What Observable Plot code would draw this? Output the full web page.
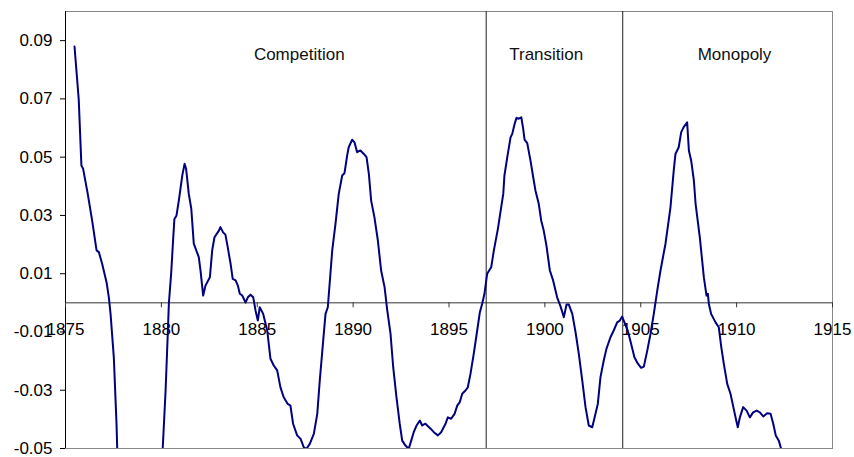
<!DOCTYPE html>
<html>
<head>
<meta charset="utf-8">
<script src="https://cdn.jsdelivr.net/npm/d3@7"></script>
<script src="https://cdn.jsdelivr.net/npm/@observablehq/plot@0.6"></script>
<style>
  html, body { margin: 0; padding: 0; background: #fff; }
</style>
</head>
<body>
<div id="chart"></div>
<script>
// Year (decimal) and value of the series
const years = [
  1875.47, 1875.69, 1875.83, 1875.92, 1876.16, 1876.39, 1876.62, 1876.74, 1876.91, 1877.14,
  1877.26, 1877.35, 1877.52, 1877.66, 1877.70, 1878.00, 1878.50, 1879.00, 1879.50, 1879.90,
  1880.07, 1880.22, 1880.34, 1880.39, 1880.51, 1880.62, 1880.68, 1880.79, 1880.91, 1881.09,
  1881.21, 1881.29, 1881.43, 1881.56, 1881.69, 1881.95, 1882.04, 1882.18, 1882.30, 1882.53,
  1882.65, 1882.77, 1883.00, 1883.08, 1883.22, 1883.34, 1883.46, 1883.61, 1883.72, 1883.87,
  1883.99, 1884.09, 1884.22, 1884.39, 1884.51, 1884.65, 1884.79, 1884.91, 1885.03, 1885.13,
  1885.31, 1885.52, 1885.69, 1885.86, 1886.04, 1886.21, 1886.38, 1886.59, 1886.73, 1886.87,
  1887.08, 1887.26, 1887.43, 1887.57, 1887.74, 1887.95, 1888.13, 1888.26, 1888.44, 1888.56,
  1888.68, 1888.91, 1889.08, 1889.25, 1889.43, 1889.55, 1889.69, 1889.77, 1889.95, 1890.07,
  1890.21, 1890.38, 1890.56, 1890.70, 1890.82, 1890.94, 1891.11, 1891.29, 1891.46, 1891.64,
  1891.78, 1891.95, 1892.09, 1892.26, 1892.43, 1892.56, 1892.73, 1892.90, 1893.03, 1893.16,
  1893.31, 1893.48, 1893.60, 1893.77, 1894.04, 1894.21, 1894.42, 1894.59, 1894.82, 1894.94,
  1895.11, 1895.29, 1895.43, 1895.56, 1895.69, 1895.86, 1895.98, 1896.12, 1896.29, 1896.47,
  1896.61, 1896.73, 1896.85, 1896.99, 1897.20, 1897.34, 1897.55, 1897.72, 1897.83, 1897.89,
  1898.04, 1898.21, 1898.30, 1898.42, 1898.52, 1898.64, 1898.77, 1898.87, 1898.94, 1899.08,
  1899.25, 1899.42, 1899.51, 1899.68, 1899.81, 1899.94, 1900.08, 1900.26, 1900.43, 1900.64,
  1900.82, 1900.99, 1901.13, 1901.25, 1901.43, 1901.60, 1901.77, 1901.95, 1902.12, 1902.29,
  1902.47, 1902.64, 1902.76, 1902.90, 1903.07, 1903.21, 1903.42, 1903.59, 1903.77, 1903.91,
  1904.03, 1904.15, 1904.32, 1904.50, 1904.67, 1904.85, 1905.02, 1905.16, 1905.34, 1905.51,
  1905.68, 1905.86, 1906.03, 1906.29, 1906.55, 1906.72, 1906.81, 1906.98, 1907.11, 1907.24,
  1907.42, 1907.51, 1907.63, 1907.77, 1907.86, 1908.08, 1908.29, 1908.43, 1908.50, 1908.55,
  1908.67, 1908.90, 1909.07, 1909.20, 1909.33, 1909.51, 1909.68, 1909.85, 1909.96, 1910.06,
  1910.17, 1910.34, 1910.52, 1910.69, 1910.86, 1911.04, 1911.21, 1911.39, 1911.59, 1911.77,
  1911.91, 1912.04, 1912.20, 1912.32, 1912.38
];
const values = [
  0.0880, 0.0698, 0.0471, 0.0460, 0.0374, 0.0282, 0.0180, 0.0174, 0.0134, 0.0071,
  0.0019, -0.0038, -0.0187, -0.0414, -0.0507, -0.0750, -0.0900, -0.0920, -0.0780, -0.0600,
  -0.0500, -0.0301, -0.0095, -0.0003, 0.0100, 0.0225, 0.0288, 0.0300, 0.0351, 0.0437,
  0.0477, 0.0460, 0.0374, 0.0323, 0.0203, 0.0157, 0.0111, 0.0025, 0.0059, 0.0088,
  0.0180, 0.0225, 0.0248, 0.0260, 0.0242, 0.0234, 0.0191, 0.0134, 0.0082, 0.0077,
  0.0059, 0.0031, 0.0025, 0.0001, 0.0019, 0.0028, 0.0019, -0.0026, -0.0061, -0.0015,
  -0.0038, -0.0095, -0.0192, -0.0215, -0.0232, -0.0290, -0.0324, -0.0347, -0.0353, -0.0415,
  -0.0455, -0.0467, -0.0496, -0.0501, -0.0484, -0.0450, -0.0381, -0.0267, -0.0129, -0.0038,
  -0.0015, 0.0180, 0.0271, 0.0374, 0.0437, 0.0445, 0.0506, 0.0534, 0.0560, 0.0551,
  0.0517, 0.0523, 0.0511, 0.0500, 0.0443, 0.0351, 0.0294, 0.0214, 0.0111, 0.0054,
  -0.0026, -0.0106, -0.0221, -0.0324, -0.0415, -0.0473, -0.0490, -0.0501, -0.0473, -0.0444,
  -0.0421, -0.0404, -0.0421, -0.0415, -0.0432, -0.0444, -0.0455, -0.0444, -0.0415, -0.0393,
  -0.0398, -0.0381, -0.0353, -0.0341, -0.0312, -0.0301, -0.0290, -0.0244, -0.0175, -0.0095,
  -0.0032, -0.0003, 0.0031, 0.0100, 0.0122, 0.0180, 0.0254, 0.0328, 0.0374, 0.0437,
  0.0500, 0.0568, 0.0580, 0.0614, 0.0635, 0.0632, 0.0637, 0.0597, 0.0560, 0.0548,
  0.0488, 0.0420, 0.0385, 0.0340, 0.0282, 0.0248, 0.0197, 0.0111, 0.0077, 0.0019,
  -0.0013, -0.0049, -0.0006, -0.0006, -0.0038, -0.0101, -0.0175, -0.0267, -0.0358, -0.0421,
  -0.0427, -0.0381, -0.0347, -0.0255, -0.0198, -0.0158, -0.0118, -0.0095, -0.0067, -0.0061,
  -0.0047, -0.0067, -0.0095, -0.0141, -0.0187, -0.0209, -0.0223, -0.0219, -0.0164, -0.0106,
  -0.0038, 0.0042, 0.0111, 0.0203, 0.0328, 0.0454, 0.0511, 0.0534, 0.0586, 0.0603,
  0.0620, 0.0523, 0.0488, 0.0420, 0.0340, 0.0225, 0.0088, 0.0025, 0.0031, -0.0003,
  -0.0038, -0.0067, -0.0084, -0.0152, -0.0209, -0.0278, -0.0312, -0.0364, -0.0398, -0.0427,
  -0.0393, -0.0358, -0.0370, -0.0393, -0.0376, -0.0370, -0.0376, -0.0390, -0.0379, -0.0381,
  -0.0415, -0.0455, -0.0473, -0.0501, -0.0530
];

const xTicks = [1875, 1880, 1885, 1890, 1895, 1900, 1905, 1910, 1915];
const yTicks = [-0.05, -0.03, -0.01, 0.01, 0.03, 0.05, 0.07, 0.09];

const periodBounds = [1896.94, 1904.06];
const periodNames = ["Competition", "Transition", "Monopoly"];
const periodLabelX = [1887.19, 1900.07, 1909.89];
const periodLabelY = [0.0852, 0.0852, 0.0852];

const series = years.map((y, i) => ({year: y, value: values[i]}));
const periodLabels = periodNames.map((n, i) => ({name: n, x: periodLabelX[i], y: periodLabelY[i]}));

const FONT = 17;
const X_LABEL_Y = -0.0093;   // the year labels sit just under the zero line
const TICK_END = -0.0017;

const chart = Plot.plot({
  width: 854,
  height: 457,
  marginLeft: 65,
  marginRight: 22,
  marginTop: 11,
  marginBottom: 9,
  style: {fontFamily: "'Liberation Sans', Arial, sans-serif", fontSize: FONT + "px", background: "#fff", color: "#000"},
  x: {domain: [1875, 1915], axis: null},
  y: {domain: [-0.05, 0.10]},
  marks: [
    Plot.frame({stroke: "#888"}),
    Plot.ruleX([1875], {stroke: "#000"}),
    Plot.ruleY([0], {stroke: "#333"}),
    Plot.ruleX(periodBounds, {stroke: "#222"}),
    Plot.axisY({ticks: yTicks, tickSize: 5, tickPadding: 8, tickFormat: d => d.toFixed(2), label: null, fontSize: FONT}),
    Plot.ruleX(xTicks, {x: d => d, y1: 0, y2: TICK_END, stroke: "#333"}),
    Plot.text(xTicks, {x: d => d, y: () => X_LABEL_Y, text: d => String(d), fontSize: FONT}),
    Plot.text(periodLabels, {x: "x", y: "y", text: "name", fontSize: FONT, fill: "#111"}),
    Plot.line(series, {x: "year", y: "value", stroke: "#000080", strokeWidth: 2, clip: true})
  ]
});
document.getElementById("chart").appendChild(chart);
</script>
</body>
</html>
